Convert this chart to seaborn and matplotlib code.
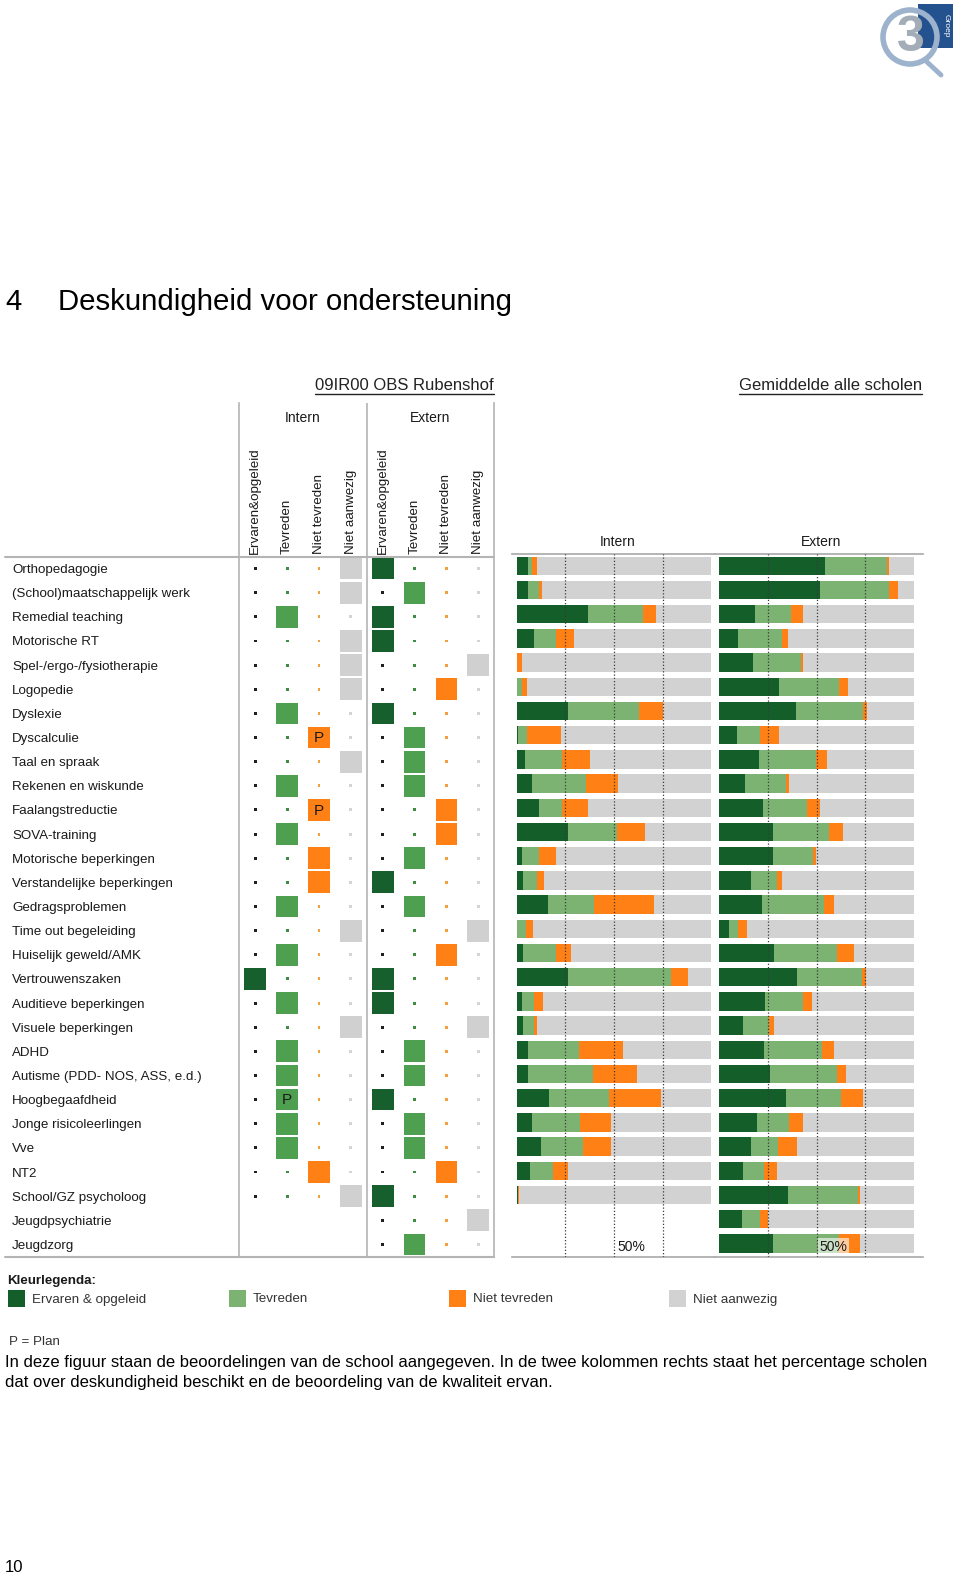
import numpy as np
import pandas as pd
import matplotlib
matplotlib.use("Agg")
import matplotlib.pyplot as plt
import seaborn as sns
from matplotlib.patches import Rectangle, Circle
from matplotlib.lines import Line2D

# ---------------- data ----------------
labels = [
    "Orthopedagogie", "(School)maatschappelijk werk", "Remedial teaching", "Motorische RT",
    "Spel-/ergo-/fysiotherapie", "Logopedie", "Dyslexie", "Dyscalculie", "Taal en spraak",
    "Rekenen en wiskunde", "Faalangstreductie", "SOVA-training", "Motorische beperkingen",
    "Verstandelijke beperkingen", "Gedragsproblemen", "Time out begeleiding",
    "Huiselijk geweld/AMK", "Vertrouwenszaken", "Auditieve beperkingen", "Visuele beperkingen",
    "ADHD", "Autisme (PDD- NOS, ASS, e.d.)", "Hoogbegaafdheid", "Jonge risicoleerlingen",
    "Vve", "NT2", "School/GZ psycholoog", "Jeugdpsychiatrie", "Jeugdzorg",
]
status_names = ["Ervaren&opgeleid", "Tevreden", "Niet tevreden", "Niet aanwezig"]
legend_names = ["Ervaren & opgeleid", "Tevreden", "Niet tevreden", "Niet aanwezig"]

# school scores: 0 Ervaren&opgeleid, 1 Tevreden, 2 Niet tevreden, 3 Niet aanwezig, None = n.v.t.
intern_status = [3, 3, 1, 3, 3, 3, 1, 2, 3, 1, 2, 1, 2, 2, 1, 3, 1, 0, 1, 3, 1, 1, 1, 1, 1, 2, 3, None, None]
extern_status = [0, 1, 0, 0, 3, 2, 0, 1, 1, 1, 2, 2, 1, 0, 1, 3, 2, 0, 0, 3, 1, 1, 0, 1, 1, 2, 0, 3, 1]
intern_plan = [0, 0, 0, 0, 0, 0, 0, 1, 0, 0, 1, 0, 0, 0, 0, 0, 0, 0, 0, 0, 0, 0, 1, 0, 0, 0, 0, 0, 0]

# average of all schools (percent)
nan = np.nan
int_dark = [5.7, 5.7, 36.5, 9.1, 0, 0, 26.2, 0.5, 4.3, 7.7, 11.6, 26.2, 2.6, 3.1, 16.3, 0, 3.1,
            26.5, 2.6, 3.1, 5.7, 5.7, 16.8, 7.7, 12.5, 6.8, 0.5, nan, nan]
int_light = [2.0, 6.0, 28.3, 11.0, 0, 2.9, 36.8, 4.6, 19.2, 27.7, 11.8, 25.5, 9.1, 7.2, 23.6, 4.6,
             17.1, 52.6, 6.5, 6.0, 26.4, 33.7, 30.7, 24.8, 21.4, 12.0, 0, nan, nan]
int_orange = [2.7, 1.2, 6.7, 9.4, 2.6, 2.2, 12.0, 17.5, 14.2, 16.8, 13.0, 14.2, 8.4, 3.8, 30.8, 3.9,
              7.7, 9.1, 4.6, 1.4, 22.4, 22.3, 26.7, 15.8, 14.4, 7.7, 0.9, nan, nan]
ext_dark = [54.3, 51.7, 18.3, 9.8, 17.5, 30.7, 39.2, 9.2, 20.4, 13.2, 22.3, 27.4, 27.4, 16.3, 21.7,
            5.1, 28.1, 40.1, 23.5, 12.3, 22.9, 26.0, 34.1, 19.2, 16.3, 12.3, 35.4, 11.8, 27.4]
ext_light = [31.7, 35.6, 18.5, 22.3, 24.3, 31.0, 34.8, 11.6, 29.3, 20.9, 22.9, 28.9, 20.5, 13.2, 32.2,
             4.6, 32.2, 33.0, 19.7, 13.4, 29.6, 34.2, 28.3, 16.8, 14.0, 10.6, 36.0, 9.1, 34.1]
ext_orange = [1.2, 4.3, 6.3, 3.4, 1.4, 4.6, 2.0, 9.9, 5.8, 1.7, 6.5, 7.0, 2.0, 2.6, 5.0, 4.6, 9.1,
              2.0, 4.6, 2.4, 6.3, 5.1, 11.6, 7.2, 9.8, 6.5, 0.9, 4.3, 10.8]

# ---------------- style ----------------
sns.set_style("white")
plt.rcParams["font.family"] = ["Liberation Sans", "DejaVu Sans"]
TXT = "#1a1a1a"
LINE = "#b4b4b4"
bar_colors = ["#145e2a", "#7cb272", "#ff8014", "#d2d2d2"]
square_colors = ["#17602e", "#4f9f50", "#ff8014", "#d0d0d0"]
dot_colors = ["#202020", "#3f8c45", "#f0a040", "#d4d4d4"]

W, H = 960, 1580
fig = plt.figure(figsize=(W / 100, H / 100), dpi=100)


def box(x0, y0, x1, y1):
    return [x0 / W, 1 - y1 / H, (x1 - x0) / W, (y1 - y0) / H]


# ---------------- titles ----------------
fig.text(5 / W, 1 - 302 / H, "4", fontsize=21.2, va="center", ha="left", color="black")
fig.text(58 / W, 1 - 302 / H, "Deskundigheid voor ondersteuning", fontsize=21.2,
         va="center", ha="left", color="black")
sub1 = fig.text(494 / W, 1 - 386 / H, "09IR00 OBS Rubenshof", fontsize=12, ha="right",
                va="center", color="#222222")
sub2 = fig.text(922 / W, 1 - 386 / H, "Gemiddelde alle scholen", fontsize=12, ha="right",
                va="center", color="#222222")

# ---------------- matrix ----------------
axm = fig.add_axes(box(239.3, 403, 494.3, 1256.5))
big_rows, dot_rows = [], []
for i in range(len(labels)):
    for st_list, off in ((intern_status, 0), (extern_status, 4)):
        st = st_list[i]
        if st is None:
            continue
        for c in range(4):
            rec = {"col": c + off, "row": i, "cat": status_names[c]}
            (big_rows if c == st else dot_rows).append(rec)
big_df = pd.DataFrame(big_rows)
dot_df = pd.DataFrame(dot_rows)
sns.scatterplot(data=big_df, x="col", y="row", hue="cat", hue_order=status_names,
                palette=square_colors, marker="s", s=245, linewidth=0, legend=False, ax=axm,
                zorder=3)
sns.scatterplot(data=dot_df, x="col", y="row", hue="cat", hue_order=status_names,
                palette=dot_colors, marker="s", s=4.5, linewidth=0, legend=False, ax=axm,
                zorder=3)
for i, p in enumerate(intern_plan):
    if p:
        axm.text(intern_status[i], i + 0.03, "P", ha="center", va="center", fontsize=11,
                 color="#1a1a1a", zorder=4)

axm.set_xlim(-0.5, 7.5)
axm.set_ylim(28.5, -6.86)
axm.set_xlabel("")
axm.set_ylabel("")
axm.set_xticks([])
axm.set_yticks(range(len(labels)))
axm.set_yticklabels(labels, ha="left", fontsize=9.6, color=TXT)
axm.tick_params(axis="y", length=0, pad=163.5)
for s in ("top", "bottom"):
    axm.spines[s].set_visible(False)
for s in ("left", "right"):
    axm.spines[s].set_color(LINE)
    axm.spines[s].set_linewidth(1.2)
axm.axvline(3.5, color=LINE, lw=1.2)
axm.axhline(-0.5, xmin=-0.92, xmax=1.0, color=LINE, lw=1.5, clip_on=False)
axm.axhline(28.5, xmin=-0.92, xmax=1.0, color=LINE, lw=1.5, clip_on=False)
axm.text(1.5, -6.23, "Intern", ha="center", va="center", fontsize=10, color=TXT)
axm.text(5.5, -6.23, "Extern", ha="center", va="center", fontsize=10, color=TXT)
for c in range(8):
    axm.text(c, -0.62, status_names[c % 4], rotation=90, ha="center", va="bottom",
             fontsize=9.6, color=TXT)


# ---------------- stacked bars ----------------
def stacked(ax, dark, light, orange, title, x0):
    df = pd.DataFrame({"label": labels, "d": dark, "l": light, "o": orange}).dropna()
    df["gray"] = 100.0
    df["dlo"] = df["d"] + df["l"] + df["o"]
    df["dl"] = df["d"] + df["l"]
    for col, color in (("gray", bar_colors[3]), ("dlo", bar_colors[2]),
                       ("dl", bar_colors[1]), ("d", bar_colors[0])):
        sns.barplot(data=df, x=col, y="label", order=labels, orient="h", color=color,
                    saturation=1, width=0.76, errorbar=None, linewidth=0, ax=ax)
    ax.set_xlim(x0)
    ax.set_ylim(28.55, -0.475)
    ax.set_xlabel("")
    ax.set_ylabel("")
    ax.set_xticks([])
    ax.set_yticks([])
    for s in ("left", "right"):
        ax.spines[s].set_visible(False)
    for s in ("top", "bottom"):
        ax.spines[s].set_color("#a8a8a8")
        ax.spines[s].set_linewidth(1.2)
    for g in (25, 50, 75):
        ax.axvline(g, color="#3a3a3a", lw=0.9, ls=(0, (1, 1.6)), zorder=6)
    ax.text(52, -1.0, title, ha="center", va="center", fontsize=10, color=TXT, clip_on=False)


axi = fig.add_axes(box(512, 554.3, 715, 1256.7))
stacked(axi, int_dark, int_light, int_orange, "Intern", (-2.42, 101.9))
axi.text(51.6, 28.14, "50%", ha="left", va="center", fontsize=10, color=TXT, zorder=7)

axe = fig.add_axes(box(715, 554.3, 923, 1256.7))
stacked(axe, ext_dark, ext_light, ext_orange, "Extern", (-2.21, 104.6))
axe.text(51.6, 28.14, "50%", ha="left", va="center", fontsize=10, color=TXT, zorder=7,
         bbox=dict(boxstyle="square,pad=0.12", facecolor="white", edgecolor="none", alpha=0.6))

# ---------------- legend ----------------
fig.text(7 / W, 1 - 1281 / H, "Kleurlegenda:", fontsize=9.6, fontweight="bold",
         ha="left", va="center", color=TXT)
for x, name, color in zip((8, 229, 449, 669), legend_names, bar_colors):
    fig.patches.append(Rectangle((x / W, 1 - 1307 / H), 17 / W, 17 / H, facecolor=color,
                                 edgecolor="none", transform=fig.transFigure, figure=fig))
    fig.text((x + 24) / W, 1 - 1299.5 / H, name, fontsize=9.6, ha="left", va="center",
             color="#333333")
fig.text(9 / W, 1 - 1342 / H, "P = Plan", fontsize=9.6, ha="left", va="center", color="#333333")
fig.text(5 / W, 1 - 1363 / H,
         "In deze figuur staan de beoordelingen van de school aangegeven. In de twee kolommen "
         "rechts staat het percentage scholen", fontsize=12, ha="left", va="center", color="black")
fig.text(5 / W, 1 - 1382 / H,
         "dat over deskundigheid beschikt en de beoordeling van de kwaliteit ervan.",
         fontsize=12, ha="left", va="center", color="black")
fig.text(5 / W, 1 - 1568 / H, "10", fontsize=12, ha="left", va="center", color="black")

# ---------------- logo ----------------
axl = fig.add_axes(box(868, 0, 958, 82))
axl.set_xlim(868, 958)
axl.set_ylim(82, 0)
axl.axis("off")
axl.add_patch(Rectangle((918, 4), 35, 44, facecolor="#24528f", edgecolor="none"))
axl.add_patch(Circle((910, 37), 27, fill=False, edgecolor="#9db2cc", lw=4))
axl.plot([927, 941], [62, 75], color="#9db2cc", lw=3.5, solid_capstyle="round")
axl.text(911, 38, "3", fontsize=36, fontweight="bold", ha="center", va="center", color="#a3adb8")
axl.text(946, 26, "Groep", fontsize=6, rotation=270, ha="center", va="center", color="white")

# ---------------- underline subtitles ----------------
fig.canvas.draw()
renderer = fig.canvas.get_renderer()
for t in (sub1, sub2):
    bb = t.get_window_extent(renderer)
    yy = (bb.y0 - 0.5) / H
    fig.lines.append(Line2D([bb.x0 / W, bb.x1 / W], [yy, yy], color="#222222", lw=1,
                            transform=fig.transFigure, figure=fig))

fig.savefig("out.png", dpi=100, facecolor="white")
